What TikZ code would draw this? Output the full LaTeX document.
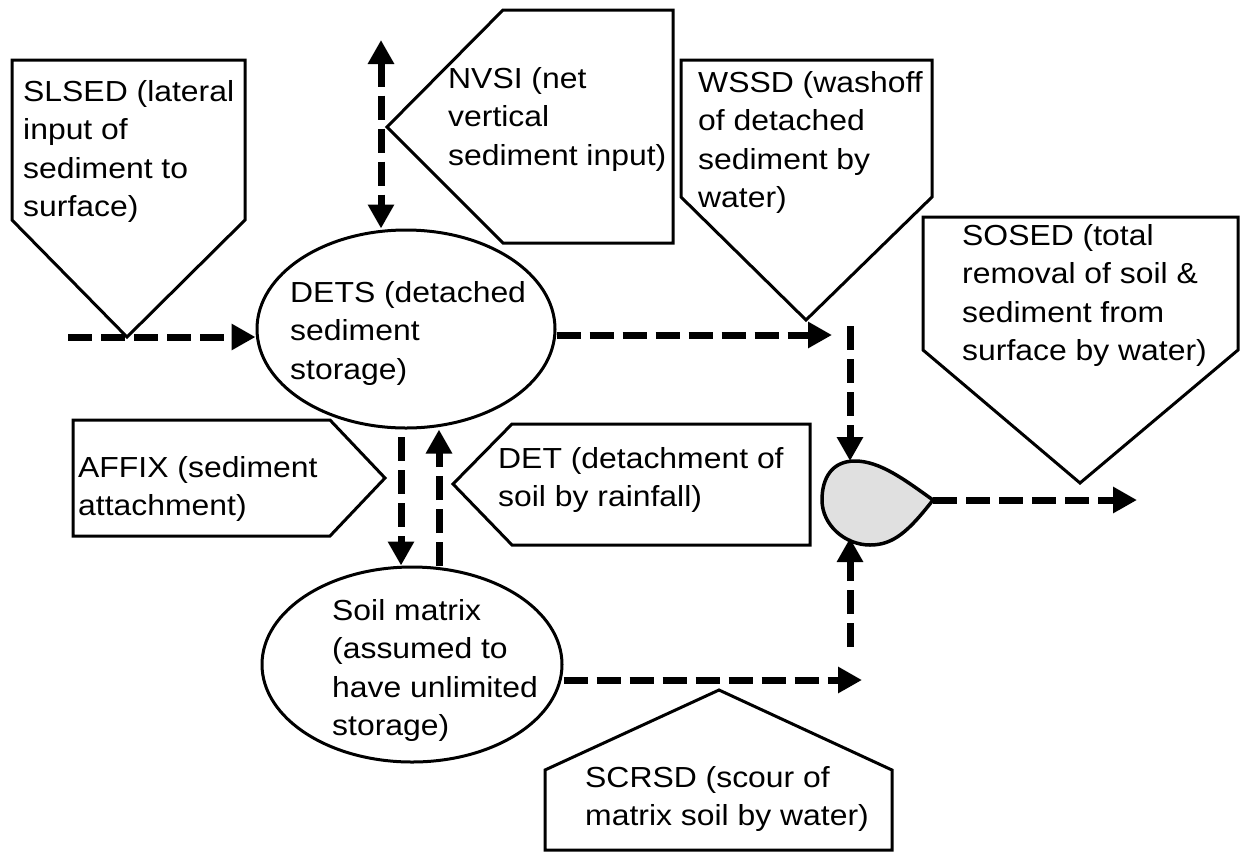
\documentclass[tikz,border=0pt]{standalone}
\usepackage{graphicx}
\usepackage{fontspec}
\setmainfont{Liberation Sans}
\usetikzlibrary{arrows.meta,calc,shapes.geometric}

% left-aligned block of lines, set slightly wide
\newcommand\widelines[1]{\scalebox{1.1}[1]{\begin{tabular}{@{}l@{}}#1\end{tabular}}}

\begin{document}
\begin{tikzpicture}[x=1pt,y=-1pt,
  callout/.style={draw=black,line width=3pt,fill=white,line join=miter},
  label/.style={anchor=north west,inner sep=0pt,
                font=\fontsize{29}{38.5}\selectfont},
  store/.style={draw=black,line width=3pt,ellipse,inner sep=0pt},
  flow/.style={line width=7pt,dash pattern=on 24pt off 9pt,
               -{Triangle[length=24pt,width=25pt]}},
  twoway/.style={line width=7pt,dash pattern=on 24pt off 9pt,
               {Triangle[length=24pt,width=25pt]}-{Triangle[length=24pt,width=25pt]}},
]
\useasboundingbox (0,0) rectangle (1244,852);

% ---- callouts ----
% SLSED (points down)
\coordinate (sltip) at (127,337);
\draw[callout] (12,60) -- (245,60) -- (245,220) -- (sltip) -- (12,220) -- cycle;
\node[label] (sltext) at (23,74) {\widelines{SLSED (lateral\\input of\\sediment to\\surface)}};

% NVSI (points left)
\coordinate (nvtip) at (387,127);
\draw[callout] (nvtip) -- (503,10) -- (673,10) -- (673,243) -- (503,243) -- cycle;
\node[label] (nvtext) at (448,61) {\widelines{NVSI (net\\vertical\\sediment input)}};

% WSSD (points down)
\coordinate (wstip) at (806,320);
\draw[callout] (681,60) -- (932,60) -- (932,197) -- (wstip) -- (681,197) -- cycle;
\node[label] (wstext) at (698,65) {\widelines{WSSD (washoff\\of detached\\sediment by\\water)}};

% SOSED (points down)
\coordinate (sotip) at (1080,483);
\draw[callout] (923,217) -- (1238,217) -- (1238,350) -- (sotip) -- (923,350) -- cycle;
\node[label] (sotext) at (962,218) {\widelines{SOSED (total\\removal of soil \&\\sediment from\\surface by water)}};

% AFFIX (points right)
\coordinate (aftip) at (385,478);
\draw[callout] (73,420) -- (330,420) -- (aftip) -- (330,536) -- (73,536) -- cycle;
\node[label] (aftext) at (78,450) {\widelines{AFFIX (sediment\\attachment)}};

% DET (points left)
\coordinate (dttip) at (453,484);
\draw[callout] (dttip) -- (512,424) -- (810,424) -- (810,545) -- (512,545) -- cycle;
\node[label] (dttext) at (498,441) {\widelines{DET (detachment of\\soil by rainfall)}};

% SCRSD (points up)
\coordinate (sctip) at (719,690);
\draw[callout] (sctip) -- (892,770) -- (892,850) -- (545,850) -- (545,770) -- cycle;
\node[label] (sctext) at (585,760) {\widelines{SCRSD (scour of\\matrix soil by water)}};

% ---- storages ----
\node[store,minimum width=298pt,minimum height=198pt] (dets) at (406,329) {};
\node[label] (detstext) at (290,275) {\widelines{DETS (detached\\sediment\\storage)}};

\node[store,minimum width=300pt,minimum height=195pt] (soil) at (412,664.5) {};
\node[label] (soiltext) at (332,593) {\widelines{Soil matrix\\(assumed to\\have unlimited\\storage)}};

% ---- junction (drop) ----
\coordinate (droptip) at (933,500);
\coordinate (droptop) at (850,461);
\coordinate (dropbot) at (850,538);
\draw[line width=3.5pt,fill=black!12,line join=round]
  (droptip) .. controls (905,480) and (880,461) .. (855,461)
  .. controls (832,461) and (822,478) .. (822,500)
  .. controls (822,525) and (845,545) .. (870,545)
  .. controls (893,545) and (908,532) .. (droptip) -- cycle;

% ---- flows ----
\coordinate (slstart) at (68,337);
\draw[flow] (slstart) -- (dets.west |- sltip);

\coordinate (wsend) at (832,335);
\draw[flow] (dets.east |- wsend) -- (wsend);

\coordinate (wsdown) at (850,326);
\draw[flow] (wsdown) -- (droptop);

\coordinate (scrup) at (850,647);
\draw[flow] (scrup) -- (dropbot);

\coordinate (scrend) at (862,680);
\draw[flow] (soil.east |- scrend) -- (scrend);

\coordinate (soend) at (1137,500);
\draw[flow] (droptip) -- (soend);

\coordinate (nvtop) at (381,40);
\draw[twoway] (nvtop) -- (nvtop |- dets.north);

\coordinate (afstart) at (401,437);
\draw[flow] (afstart) -- (afstart |- soil.north);

\coordinate (dtx) at (439,566);
\draw[flow] (dtx) -- (dtx |- dets.south);

\end{tikzpicture}
\end{document}
